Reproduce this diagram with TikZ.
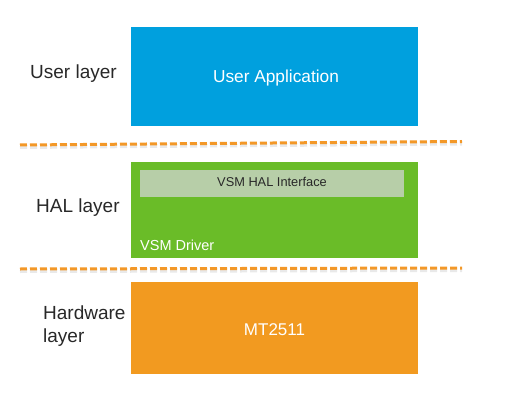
\documentclass[tikz,border=0pt]{standalone}
\usepackage{fontspec}
\setmainfont{Liberation Sans}
\definecolor{ublue}{RGB}{0,160,222}
\definecolor{hgreen}{RGB}{106,188,40}
\definecolor{igreen}{RGB}{183,206,168}
\definecolor{horange}{RGB}{242,154,32}
\definecolor{dorange}{RGB}{243,152,40}
\definecolor{txt}{RGB}{40,40,40}
\begin{document}
\begin{tikzpicture}[x=1pt,y=-1pt,
  box/.style={draw=none,inner sep=0pt,anchor=north west},
  lbl/.style={text=txt,font=\fontsize{19}{23}\selectfont,inner sep=0pt},
  sep/.style={dorange,line width=3pt,dash pattern=on 7pt off 3pt},
  sepshadow/.style={black!25,line width=3pt,dash pattern=on 7pt off 3pt,opacity=0.35}]
\useasboundingbox (0,0) rectangle (530,417);
% boxes
\node[box,fill=ublue,minimum width=287pt,minimum height=99pt] (user) at (131,27) {};
\node[box,fill=hgreen,minimum width=287pt,minimum height=96pt] (hal) at (131,162) {};
\node[box,fill=igreen,minimum width=264pt,minimum height=27pt] (iface) at (140,170) {};
\node[box,fill=horange,minimum width=287pt,minimum height=92pt] (hw) at (131,282) {};
% box texts
\node[text=white,font=\fontsize{17.3}{20}\selectfont,inner sep=0pt] (ua) at (276,78) {User Application};
\node[text=txt,font=\fontsize{12.8}{15}\selectfont,inner sep=0pt] (vhi) at (272,182) {VSM HAL Interface};
\node[text=white,font=\fontsize{14.5}{17}\selectfont,inner sep=0pt,anchor=west] (vd) at (140,245) {VSM Driver};
\node[text=white,font=\fontsize{17}{20}\selectfont,inner sep=0pt] (mt) at (274.5,330) {MT2511};
% layer labels
\node[lbl,anchor=west] (ul) at (30,74) {User layer};
\node[lbl,anchor=west] (hl) at (36,208) {HAL layer};
\node[lbl,anchor=north west,align=left] (hwl) at (43,306) {Hardware\\layer};
% separators
\coordinate (s1a) at (20,145);
\coordinate (s1b) at (462,141.5);
\coordinate (s2a) at (20,269);
\coordinate (s2b) at (462,268);
\draw[sepshadow] ([yshift=-2.5pt]s1a) -- ([yshift=-2.5pt]s1b);
\draw[sepshadow] ([yshift=-2.5pt]s2a) -- ([yshift=-2.5pt]s2b);
\draw[sep] (s1a) -- (s1b);
\draw[sep] (s2a) -- (s2b);
\end{tikzpicture}
\end{document}
